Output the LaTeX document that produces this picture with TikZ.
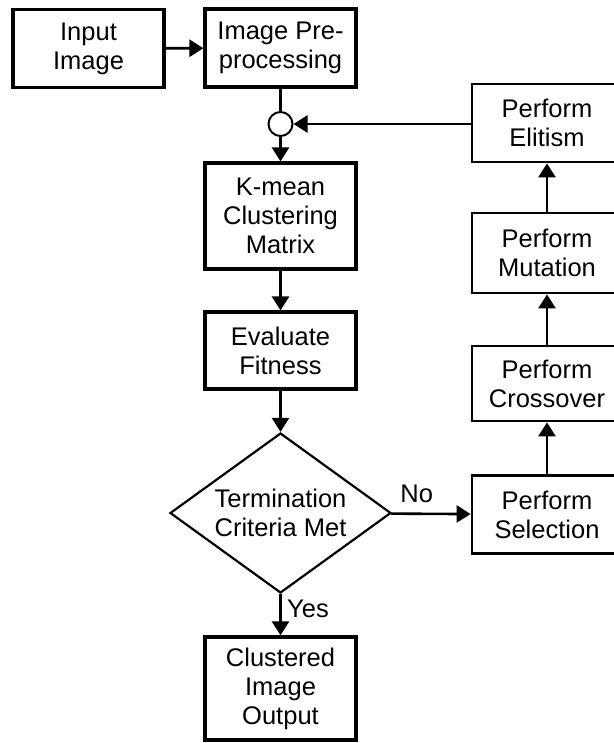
\documentclass[tikz,border=0pt]{standalone}
\usepackage{fontspec}
\setmainfont{Liberation Sans}
\usepackage{tikz}
\usetikzlibrary{arrows.meta,positioning,shapes.geometric}

\begin{document}
\begin{tikzpicture}[
  x=1pt, y=-1pt,
  font=\fontsize{25.5}{29}\selectfont,
  procbox/.style={draw, line width=3.2pt, align=center, inner sep=0pt,
                  minimum width=151pt, minimum height=78pt},
  gabox/.style={procbox, line width=2.8pt, minimum width=150pt},
  joint/.style={draw, circle, line width=2pt, inner sep=0pt, minimum size=24pt},
  decision/.style={draw, diamond, aspect=1.38, line width=2.2pt, align=center,
                   inner sep=0pt, minimum width=221pt, minimum height=160pt},
  arr/.style={-{Triangle[length=14pt,width=17pt]}, line width=2.6pt},
  lnk/.style={line width=2.6pt}
]
\useasboundingbox (0,0) rectangle (613,743);
\node[procbox] (input) at (88.5,48.5) {Input\\Image};
\node[procbox] (prep) at (280.5,48) {Image Pre-\\processing};
\node[joint] (merge) at (280.5,124) {};
\node[procbox, minimum height=106pt] (kmean) at (280.5,216) {K-mean\\Clustering\\Matrix};
\node[procbox, minimum height=77pt] (fitness) at (280.5,350.5) {Evaluate\\Fitness};
\node[decision] (stop) at (280.5,513) {Termination\\Criteria Met};
\node[procbox, minimum height=103pt] (output) at (280.5,688.5) {Clustered\\Image\\Output};
\node[gabox] (select) at (547,514.5) {Perform\\Selection};
\node[gabox, minimum height=75pt] (cross) at (547,383.5) {Perform\\Crossover};
\node[gabox, minimum height=80pt] (mutate) at (547,253) {Perform\\Mutation};
\node[gabox] (elite) at (547,123) {Perform\\Elitism};
\draw[arr] (input) -- (prep);
\draw[lnk] (prep) -- (merge);
\draw[arr] (merge) -- (kmean);
\draw[arr] (kmean) -- (fitness);
\draw[arr] (fitness) -- (stop);
\draw[arr] (stop) -- node[right, pos=0.35, xshift=2pt] {Yes} (output);
\draw[arr] (stop) -- node[above, pos=0.32, yshift=6pt] {No} (select);
\draw[arr] (select) -- (cross);
\draw[arr] (cross) -- (mutate);
\draw[arr] (mutate) -- (elite);
\draw[arr] (elite.west |- merge) -- (merge);
\end{tikzpicture}
\end{document}
